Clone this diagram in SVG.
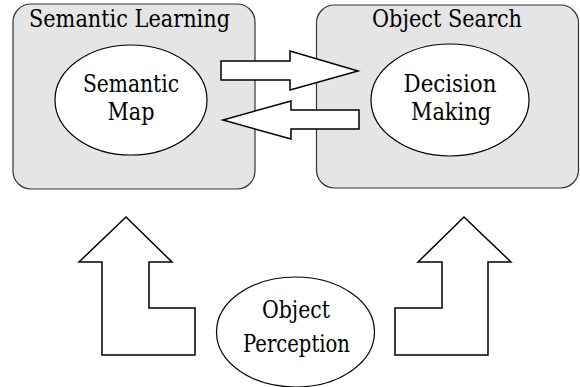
<svg xmlns="http://www.w3.org/2000/svg" width="580" height="387" viewBox="0 0 580 387">
<style>
.box{fill:#e5e5e5;stroke:#333;stroke-width:1.2}
.ell{fill:#fff;stroke:#000;stroke-width:1.2}
.arr{fill:#fff;stroke:#000;stroke-width:1.5;stroke-linejoin:miter}
</style>
<rect width="580" height="387" fill="#fff"/>
<g font-family="'DejaVu Serif', serif" font-size="24" fill="#000" text-anchor="middle">
<g id="semantic-learning">
<rect class="box" x="13" y="4" width="242" height="185" rx="18"/>
<text x="129.5" y="27" textLength="201" lengthAdjust="spacingAndGlyphs">Semantic Learning</text>
</g>
<g id="object-search">
<rect class="box" x="316.5" y="5" width="262" height="183" rx="18"/>
<text x="447" y="27" textLength="150" lengthAdjust="spacingAndGlyphs">Object Search</text>
</g>
<g id="semantic-map">
<ellipse class="ell" cx="131" cy="100" rx="76" ry="55"/>
<text x="131" y="92" textLength="96" lengthAdjust="spacingAndGlyphs">Semantic</text>
<text x="131" y="120" textLength="47" lengthAdjust="spacingAndGlyphs">Map</text>
</g>
<g id="decision-making">
<ellipse class="ell" cx="450" cy="100" rx="79" ry="56"/>
<text x="450" y="92" textLength="93" lengthAdjust="spacingAndGlyphs">Decision</text>
<text x="451" y="120" textLength="80" lengthAdjust="spacingAndGlyphs">Making</text>
</g>
<g id="object-perception">
<ellipse class="ell" cx="295.5" cy="332" rx="79" ry="55"/>
<text x="296" y="318" textLength="68" lengthAdjust="spacingAndGlyphs">Object</text>
<text x="296.5" y="352" textLength="107" lengthAdjust="spacingAndGlyphs">Perception</text>
</g>
</g>
<g id="connectors">
<polygon class="arr" points="221,61 290,61 290,51 358,71 290,90 290,80 221,80"/>
<polygon class="arr" points="359,110 291,110 291,101 223,120 291,139 291,129 359,129"/>
<polygon class="arr" points="102,355 102,262 79,262 126,217 172,262 149,262 149,308 195,308 195,355"/>
<polygon class="arr" points="488,355 488,262 511,262 464,217 418,262 442,262 442,308 395,308 395,355"/>
</g>
</svg>
